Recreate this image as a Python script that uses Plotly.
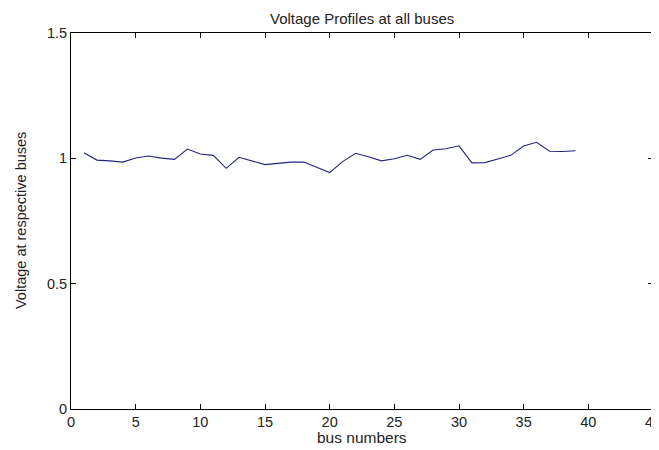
import plotly.graph_objects as go

buses = list(range(1, 40))
voltages = [1.022, 0.993, 0.990, 0.985, 1.001, 1.009, 1.001, 0.996, 1.037, 1.017,
            1.012, 0.960, 1.004, 0.990, 0.975, 0.980, 0.985, 0.985, 0.964, 0.943,
            0.987, 1.020, 1.006, 0.990, 0.998, 1.012, 0.996, 1.033, 1.038, 1.050,
            0.982, 0.983, 0.997, 1.012, 1.049, 1.064, 1.028, 1.027, 1.030]

x_ticks = [0, 5, 10, 15, 20, 25, 30, 35, 40, 45]
y_ticks = [0, 0.5, 1, 1.5]
y_tick_labels = ["0", "0.5", "1", "1.5"]

title_text = "Voltage Profiles at all buses"
x_title = "bus numbers"
y_title = "Voltage at respective buses"

font_family = "Liberation Sans, Arial, sans-serif"
text_color = "#222222"

# the page body adds an 8px margin, so the figure is drawn 8px in from the corner
fig = go.Figure()
fig.add_trace(go.Scatter(
    x=buses, y=voltages, mode="lines",
    line=dict(color="#23237f", width=1.1),
    hoverinfo="x+y", showlegend=False,
))

axis_common = dict(
    showline=True, linecolor="black", linewidth=1, mirror="ticks",
    ticks="inside", ticklen=5, tickwidth=1, tickcolor="black",
    showgrid=False, zeroline=False, automargin=False,
    tickfont=dict(family=font_family, size=14.5, color=text_color),
)

fig.update_layout(
    width=651, height=442,
    margin=dict(l=63, r=6, t=25, b=41, autoexpand=False),
    paper_bgcolor="white", plot_bgcolor="white",
    font=dict(family=font_family, size=14, color=text_color),
    xaxis=dict(range=[0, 45], tickvals=x_ticks, ticklabeloverflow="allow",
               **axis_common),
    yaxis=dict(range=[0, 1.5], tickvals=y_ticks, ticktext=y_tick_labels,
               ticklabeloverflow="allow", **axis_common),
    annotations=[
        dict(text=title_text, xref="paper", yref="paper", x=0.5, y=1,
             xanchor="center", yanchor="middle", yshift=15, showarrow=False,
             font=dict(family=font_family, size=15, color=text_color)),
        dict(text=x_title, xref="paper", yref="paper", x=0.5, y=0,
             xanchor="center", yanchor="middle", yshift=-28, showarrow=False,
             font=dict(family=font_family, size=15.5, color=text_color)),
        dict(text=y_title, xref="paper", yref="paper", x=0, y=0.5,
             xanchor="center", yanchor="middle", xshift=-50, textangle=-90,
             showarrow=False,
             font=dict(family=font_family, size=14.5, color=text_color)),
    ],
)

fig.write_html("out.html")
